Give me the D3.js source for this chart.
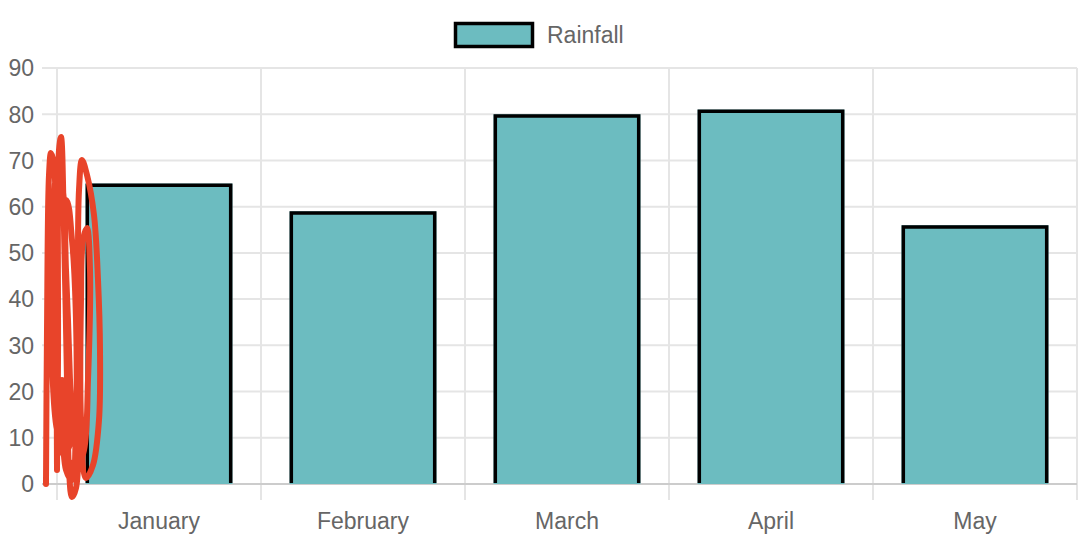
<!DOCTYPE html>
<html><head><meta charset="utf-8">
<script src="https://cdn.jsdelivr.net/npm/d3@7"></script>
<style>html,body{margin:0;padding:0;background:#fff;}svg{display:block;}</style>
</head><body>
<svg id="c" width="1080" height="554"></svg>
<script>
const categories = ["January","February","March","April","May"];
const rainfall = [65, 59, 80, 81, 56];
const yTicks = [0,10,20,30,40,50,60,70,80,90];
const seriesName = "Rainfall";

(function(){
const pLeft = 57, pRight = 1077, pTop = 68, pBottom = 484;
const font = "'Liberation Sans', Arial, Helvetica, sans-serif";
const fill = "#6CBCC0";
const svg = d3.select("#c");

const x = d3.scaleBand().domain(categories).range([pLeft, pRight]).padding(0);
const y = d3.scaleLinear().domain([0, 90]).range([pBottom, pTop]);

const g = svg.append("g");
yTicks.forEach(t => {
  g.append("line").attr("x1", 42).attr("x2", pRight).attr("y1", y(t)).attr("y2", y(t))
    .attr("stroke", "#e5e5e5").attr("stroke-width", 2);
});
const xs = categories.map(c => x(c)).concat([pRight]);
xs.forEach(v => {
  g.append("line").attr("x1", v).attr("x2", v).attr("y1", pTop).attr("y2", 500)
    .attr("stroke", "#e5e5e5").attr("stroke-width", 2);
});
g.append("line").attr("x1", 42).attr("x2", pRight).attr("y1", y(0)).attr("y2", y(0))
  .attr("stroke", "#cccccc").attr("stroke-width", 2);

svg.append("g").selectAll("text").data(yTicks).join("text")
  .attr("x", 34).attr("y", d => y(d)).attr("dy", "0.36em")
  .attr("text-anchor", "end").attr("font-family", font).attr("font-size", 23)
  .attr("fill", "#666").text(d => d);

svg.append("g").selectAll("text").data(categories).join("text")
  .attr("x", d => x(d) + x.bandwidth()/2).attr("y", 529)
  .attr("text-anchor", "middle").attr("font-family", font).attr("font-size", 23)
  .attr("fill", "#666").text(d => d);

const bw = x.bandwidth() * 0.72;
const bars = svg.append("g");
categories.forEach((c, i) => {
  const cx = x(c) + x.bandwidth()/2;
  const x0 = cx - bw/2, x1 = cx + bw/2, yt = y(rainfall[i]), yb = y(0);
  bars.append("rect").attr("x", x0).attr("y", yt).attr("width", bw).attr("height", yb - yt)
    .attr("fill", fill);
  bars.append("path")
    .attr("d", `M${x0+1.75},${yb-1}V${yt+1.75}H${x1-1.75}V${yb-1}`)
    .attr("fill", "none").attr("stroke", "#000").attr("stroke-width", 3.5);
});

const lg = svg.append("g");
lg.append("rect").attr("x", 455.5).attr("y", 23.5).attr("width", 77).attr("height", 23)
  .attr("fill", fill).attr("stroke", "#000").attr("stroke-width", 3.5);
lg.append("text").attr("x", 547).attr("y", 35).attr("dy", "0.36em")
  .attr("font-family", font).attr("font-size", 23).attr("fill", "#666").text(seriesName);

// freehand annotation scribble (not data)
const scribble = [[46,484],[47,330],[49,175],[51,153],[54,165],[56,260],[57,470],[58,360],[59,150],[61,137],[64,230],[67,380],[69,470],[72,497],[76,488],[79,430],[78,300],[79,190],[82,160],[87,175],[94,215],[98,280],[100,350],[99,420],[93,465],[86,478],[81,420],[81,300],[83,240],[87,228],[90,270],[88,380],[84,450],[76,470],[66,455],[57,430],[52,360],[51,290],[53,220],[57,175],[62,185],[66,270],[70,380],[71,440],[64,455],[56,400],[52,320],[55,250],[60,205],[66,200],[72,240],[76,320],[76,420],[72,480],[66,470],[62,380]];
svg.append("path").datum(scribble)
  .attr("d", d3.line().curve(d3.curveCatmullRom))
  .attr("fill", "none").attr("stroke", "#E8442A").attr("stroke-width", 6)
  .attr("stroke-linecap", "round").attr("stroke-linejoin", "round");
})();
</script>
</body></html>
